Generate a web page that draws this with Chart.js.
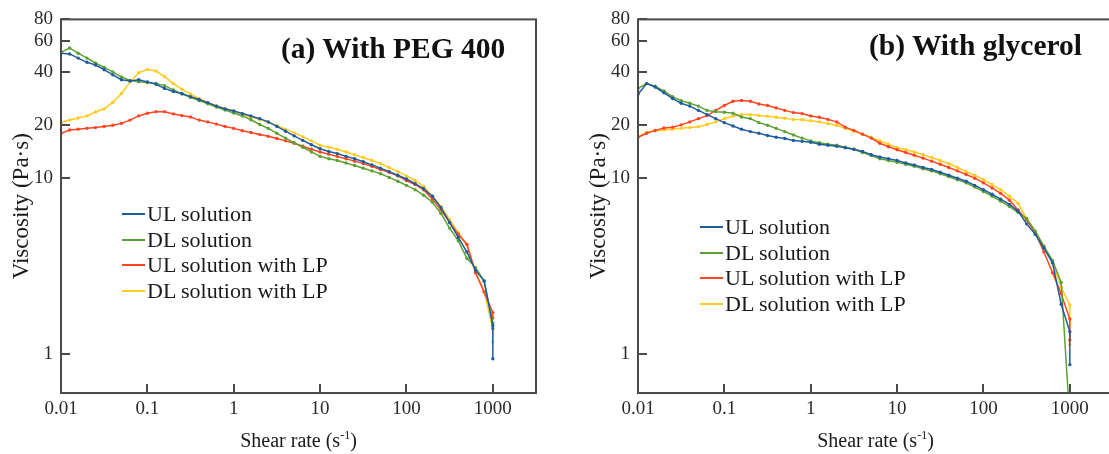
<!DOCTYPE html>
<html>
<head>
<meta charset="utf-8">
<script src="https://cdn.jsdelivr.net/npm/chart.js@4.4.1/dist/chart.umd.min.js"></script>
<style>
  body { margin: 0; background: #fff; }
  #page { position: relative; width: 1109px; height: 454px; overflow: hidden;
          font-family: "Liberation Serif", "Times New Roman", serif; color: #1a1a1a; }
  .panel { position: absolute; top: 0; width: 560px; height: 454px; }
  .panel canvas { position: absolute; left: 0; top: 0; }
  .ptitle { position: absolute; font-weight: bold; font-size: 29.5px; line-height: 32px; white-space: nowrap; color: #111; }
  .xtitle { position: absolute; left: 61px; top: 428px; width: 475px; text-align: center; font-size: 20px; line-height: 24px; }
  .xtitle sup { font-size: 12px; line-height: 0; vertical-align: 8px; }
  .legend { position: absolute; font-size: 22px; }
  .legend .item { display: flex; align-items: center; height: 25.7px; white-space: nowrap; }
  .legend .swatch { display: inline-block; width: 23px; height: 2px; margin-right: 2px; }
</style>
</head>
<body>
<div id="page">
  <div class="panel" id="panelA" style="left:0px">
    <canvas id="chartA" width="560" height="454"></canvas>
    <div class="ptitle" style="left:281px; top:32px">(a) With PEG 400</div>
    <div class="legend" id="legendA" style="left:122px; top:201px"></div>
    <div class="xtitle">Shear rate (s<sup>-1</sup>)</div>
  </div>
  <div class="panel" id="panelB" style="left:577px">
    <canvas id="chartB" width="560" height="454"></canvas>
    <div class="ptitle" style="left:292px; top:29px">(b) With glycerol</div>
    <div class="legend" id="legendB" style="left:123px; top:214px"></div>
    <div class="xtitle">Shear rate (s<sup>-1</sup>)</div>
  </div>
</div>
<script>
// shear rate points (s-1), the last point is repeated at 1000
const shearRate = [0.01, 0.0126, 0.0158, 0.02, 0.0251, 0.0316, 0.0398, 0.0501, 0.0631, 0.0794,
    0.1, 0.126, 0.158, 0.2, 0.251, 0.316, 0.398, 0.501, 0.631, 0.794,
    1, 1.26, 1.58, 2, 2.51, 3.16, 3.98, 5.01, 6.31, 7.94,
    10, 12.6, 15.8, 20, 25.1, 31.6, 39.8, 50.1, 63.1, 79.4,
    100, 126, 158, 200, 251, 316, 398, 501, 631, 794,
    1000, 1000];

const seriesLabels = ['UL solution', 'DL solution', 'UL solution with LP', 'DL solution with LP'];
const xTicks = [0.01, 0.1, 1, 10, 100, 1000];
const yTicks = [1, 10, 20, 40, 60, 80];

// (a) With PEG 400 - viscosity (Pa·s)
const pegUL = [51.3, 50.9, 48.2, 45.6, 44.0, 41.4, 38.7, 36.3, 35.7, 36.3,
    35.3, 34.2, 32.4, 31.1, 30.3, 29.1, 28.0, 26.9, 25.7, 24.8,
    24.1, 23.3, 22.6, 21.8, 20.9, 19.7, 18.5, 17.4, 16.4, 15.5,
    14.7, 14.2, 13.8, 13.3, 12.9, 12.4, 11.9, 11.4, 10.9, 10.4,
    9.9, 9.3, 8.7, 7.9, 6.8, 5.6, 4.6, 3.8, 3.0, 2.6,
    1.45, 0.94];
const pegDL = [51.9, 55.0, 51.4, 48.2, 45.2, 42.7, 40.2, 37.6, 36.0, 35.3,
    35.0, 34.6, 33.6, 31.8, 30.1, 28.8, 27.6, 26.5, 25.4, 24.4,
    23.5, 22.6, 21.5, 20.2, 19.2, 18.0, 16.9, 15.9, 15.0, 14.1,
    13.3, 12.9, 12.6, 12.2, 11.8, 11.4, 11.0, 10.6, 10.1, 9.6,
    9.1, 8.6, 8.0, 7.3, 6.3, 5.2, 4.4, 3.5, 3.1, 2.6,
    1.5, 1.4];
const pegULLP = [18.0, 18.8, 19.0, 19.2, 19.4, 19.7, 20.0, 20.5, 21.4, 22.6,
    23.4, 23.9, 23.9, 23.2, 22.7, 22.3, 21.4, 20.9, 20.3, 19.7,
    19.2, 18.6, 18.2, 17.7, 17.3, 16.8, 16.3, 15.8, 15.2, 14.6,
    14.1, 13.7, 13.3, 12.9, 12.5, 12.1, 11.7, 11.2, 10.8, 10.3,
    9.7, 9.2, 8.6, 7.6, 6.6, 5.6, 4.8, 4.2, 2.9, 2.25,
    1.72, 1.6];
const pegDLLP = [20.7, 21.4, 22.0, 22.6, 23.8, 24.8, 27.0, 30.3, 35.3, 39.8,
    41.5, 40.7, 37.8, 34.5, 32.1, 30.1, 28.3, 27.0, 25.8, 24.8,
    24.1, 23.0, 22.3, 21.6, 20.8, 19.9, 19.0, 18.1, 17.2, 16.3,
    15.4, 15.0, 14.6, 14.1, 13.6, 13.1, 12.6, 12.1, 11.5, 10.9,
    10.3, 9.7, 9.0, 7.9, 6.9, 5.8, 4.9, 4.2, 2.93, 2.27,
    1.38, 1.17];

// (b) With glycerol - viscosity (Pa·s)
const glyUL = [30.0, 34.5, 33.0, 30.6, 28.4, 26.7, 25.7, 24.3, 23.0, 21.8,
    20.7, 19.8, 19.0, 18.4, 18.0, 17.5, 17.1, 16.8, 16.4, 16.2,
    16.0, 15.6, 15.4, 15.2, 14.9, 14.6, 14.2, 13.6, 13.2, 12.9,
    12.6, 12.2, 11.9, 11.5, 11.2, 10.8, 10.4, 10.0, 9.6, 9.1,
    8.6, 8.1, 7.6, 7.1, 6.5, 5.5, 4.8, 4.0, 3.3, 1.92,
    1.34, 0.87];
const glyDL = [32.4, 34.5, 33.4, 31.3, 29.1, 27.6, 26.7, 25.7, 24.3, 23.9,
    23.7, 23.4, 22.3, 21.8, 20.7, 20.0, 19.2, 18.4, 17.6, 16.9,
    16.3, 15.9, 15.6, 15.4, 15.0, 14.6, 14.0, 13.5, 12.9, 12.6,
    12.3, 12.0, 11.7, 11.3, 11.0, 10.6, 10.2, 9.8, 9.4, 8.9,
    8.4, 7.9, 7.4, 6.9, 6.4, 5.9, 5.0, 4.1, 3.4, 2.55,
    0.42];
const glyULLP = [17.1, 18.0, 18.7, 19.3, 19.5, 20.1, 20.9, 21.8, 22.7, 24.3,
    25.9, 27.4, 27.7, 27.4, 26.4, 25.9, 25.1, 24.3, 23.6, 23.3,
    22.6, 22.2, 21.6, 20.9, 19.5, 18.7, 17.8, 16.9, 15.8, 15.1,
    14.5, 14.0, 13.5, 13.0, 12.5, 12.0, 11.5, 11.0, 10.5, 10.0,
    9.4, 8.8, 8.2, 7.5, 6.6, 5.8, 4.9, 3.8, 2.9, 2.2,
    1.58, 1.2];
const glyDLLP = [17.2, 18.2, 18.6, 18.8, 19.0, 19.2, 19.4, 19.6, 20.2, 20.9,
    21.8, 22.6, 23.0, 23.0, 22.7, 22.5, 22.2, 21.9, 21.6, 21.5,
    21.2, 20.9, 20.4, 20.0, 19.2, 18.5, 17.8, 17.1, 16.3, 15.6,
    14.9, 14.5, 14.1, 13.6, 13.1, 12.6, 12.1, 11.5, 10.9, 10.4,
    9.8, 9.2, 8.6, 7.9, 7.2, 5.9, 5.0, 4.1, 3.3, 2.4,
    1.9, 1.13];

const colors = ['#1f5c9e', '#5da231', '#ff4422', '#ffcb1f'];
const fontFamily = '"Liberation Serif", "Times New Roman", serif';

// axis box + inward tick marks
const framePlugin = {
    id: 'frame',
    afterDraw(chart) {
        const { ctx, chartArea: { left, right, top, bottom }, scales: { x, y } } = chart;
        ctx.save();
        ctx.strokeStyle = '#4a4a4a';
        ctx.lineWidth = 2;
        ctx.strokeRect(left, top, right - left, bottom - top);
        ctx.beginPath();
        x.ticks.forEach(t => {
            const px = Math.round(x.getPixelForValue(t.value));
            ctx.moveTo(px, bottom);
            ctx.lineTo(px, bottom - 9);
        });
        y.ticks.forEach(t => {
            const py = Math.round(y.getPixelForValue(t.value));
            ctx.moveTo(left, py);
            ctx.lineTo(left + 9, py);
        });
        ctx.stroke();
        ctx.restore();
    }
};

function buildChart(canvasId, legendId, seriesList, topPad) {
    const datasets = seriesList.map((ys, k) => ({
        label: seriesLabels[k],
        data: ys.map((v, i) => ({ x: shearRate[i], y: v })),
        borderColor: colors[k],
        backgroundColor: colors[k],
        borderWidth: 1.5,
        pointRadius: 1.7,
        pointBorderWidth: 0,
        pointBackgroundColor: colors[k],
        tension: 0
    }));
    const tickFont = { family: fontFamily, size: 19 };
    const chart = new Chart(document.getElementById(canvasId), {
        type: 'line',
        data: { datasets: datasets },
        options: {
            responsive: false,
            animation: false,
            parsing: false,
            layout: { padding: { top: topPad, right: 24, left: 0, bottom: 0 } },
            plugins: { legend: { display: false }, tooltip: { enabled: false } },
            scales: {
                x: {
                    type: 'logarithmic', min: 0.01, max: 3162,
                    grid: { display: false, drawTicks: false }, border: { display: false },
                    afterBuildTicks: s => { s.ticks = xTicks.map(v => ({ value: v })); },
                    afterFit: s => { s.height = 61; },
                    ticks: { autoSkip: false, maxRotation: 0, padding: 5, color: '#2a2a2a', font: tickFont,
                             callback: v => String(v) }
                },
                y: {
                    type: 'logarithmic', min: 0.631, max: 80,
                    grid: { display: false, drawTicks: false }, border: { display: false },
                    afterBuildTicks: s => { s.ticks = yTicks.map(v => ({ value: v })); },
                    afterFit: s => { s.width = 61; },
                    ticks: { autoSkip: false, padding: 8, color: '#2a2a2a', font: tickFont,
                             callback: v => String(v) },
                    title: { display: true, text: 'Viscosity (Pa·s)', color: '#1a1a1a',
                             font: { family: fontFamily, size: 23 }, padding: { top: 8, bottom: 0 } }
                }
            }
        },
        plugins: [framePlugin]
    });

    // custom legend from the datasets
    const box = document.getElementById(legendId);
    chart.data.datasets.forEach(ds => {
        const row = document.createElement('div');
        row.className = 'item';
        row.innerHTML = `<span class="swatch" style="background:${ds.borderColor}"></span>${ds.label}`;
        box.appendChild(row);
    });
    return chart;
}

buildChart('chartA', 'legendA', [pegUL, pegDL, pegULLP, pegDLLP], 14);
buildChart('chartB', 'legendB', [glyUL, glyDL, glyULLP, glyDLLP], 13);
</script>
</body>
</html>
